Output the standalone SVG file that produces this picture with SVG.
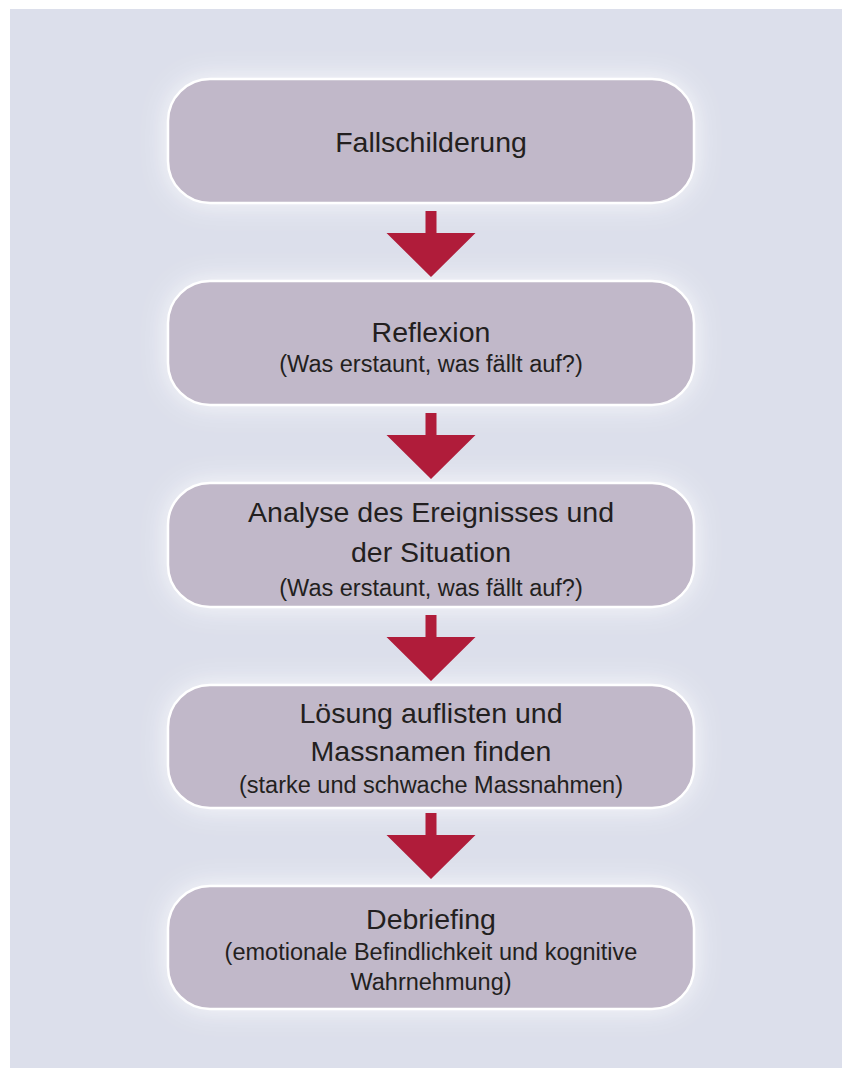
<svg xmlns="http://www.w3.org/2000/svg" width="842" height="1068" viewBox="0 0 842 1068">
  <defs>
    <filter id="halo" x="-20%" y="-60%" width="140%" height="220%">
      <feGaussianBlur stdDeviation="14"/>
    </filter>
    <style>
      .halo { fill: #ffffff; opacity: 0.9; filter: url(#halo); }
      .box { fill: #c1b8c9; stroke: #ffffff; stroke-width: 2.5; }
      .title { font-family: "Liberation Sans", Arial, sans-serif; font-size: 28.5px; fill: #231f20; text-anchor: middle; }
      .sub { font-family: "Liberation Sans", Arial, sans-serif; font-size: 23.5px; fill: #231f20; text-anchor: middle; }
      .arrow { fill: #b01c3a; }
    </style>
  </defs>

  <!-- backdrop panel -->
  <rect x="10" y="9" width="832" height="1059" fill="#dcdfeb"/>

  <!-- step 1 -->
  <g id="step-fallschilderung">
    <rect class="halo" x="168" y="79" width="526" height="124" rx="42"/>
    <rect class="box" x="168" y="79" width="526" height="124" rx="42"/>
    <text class="title" x="431" y="152">Fallschilderung</text>
  </g>

  <!-- step 2 -->
  <g id="step-reflexion">
    <rect class="halo" x="168" y="281" width="526" height="124" rx="42"/>
    <rect class="box" x="168" y="281" width="526" height="124" rx="42"/>
    <text class="title" x="431" y="342">Reflexion</text>
    <text class="sub" x="431" y="372">(Was erstaunt, was fällt auf?)</text>
  </g>

  <!-- step 3 -->
  <g id="step-analyse">
    <rect class="halo" x="168" y="483" width="526" height="124" rx="42"/>
    <rect class="box" x="168" y="483" width="526" height="124" rx="42"/>
    <text class="title" x="431" y="522">Analyse des Ereignisses und</text>
    <text class="title" x="431" y="562">der Situation</text>
    <text class="sub" x="431" y="596">(Was erstaunt, was fällt auf?)</text>
  </g>

  <!-- step 4 -->
  <g id="step-loesung">
    <rect class="halo" x="168" y="685" width="526" height="123" rx="42"/>
    <rect class="box" x="168" y="685" width="526" height="123" rx="42"/>
    <text class="title" x="431" y="723">Lösung auflisten und</text>
    <text class="title" x="431" y="761">Massnamen finden</text>
    <text class="sub" x="431" y="793">(starke und schwache Massnahmen)</text>
  </g>

  <!-- step 5 -->
  <g id="step-debriefing">
    <rect class="halo" x="168" y="886" width="526" height="123" rx="42"/>
    <rect class="box" x="168" y="886" width="526" height="123" rx="42"/>
    <text class="title" x="431" y="929">Debriefing</text>
    <text class="sub" x="431" y="960">(emotionale Befindlichkeit und kognitive</text>
    <text class="sub" x="431" y="990">Wahrnehmung)</text>
  </g>

  <!-- connectors: block arrows between steps -->
  <g id="connectors">
    <path class="arrow" d="M425.5 211 H436.5 V233 H475.5 L431 277 L386.5 233 H425.5 Z"/>
    <path class="arrow" d="M425.5 413 H436.5 V435 H475.5 L431 479 L386.5 435 H425.5 Z"/>
    <path class="arrow" d="M425.5 615 H436.5 V637 H475.5 L431 681 L386.5 637 H425.5 Z"/>
    <path class="arrow" d="M425.5 813 H436.5 V835 H475.5 L431 879 L386.5 835 H425.5 Z"/>
  </g>
</svg>
